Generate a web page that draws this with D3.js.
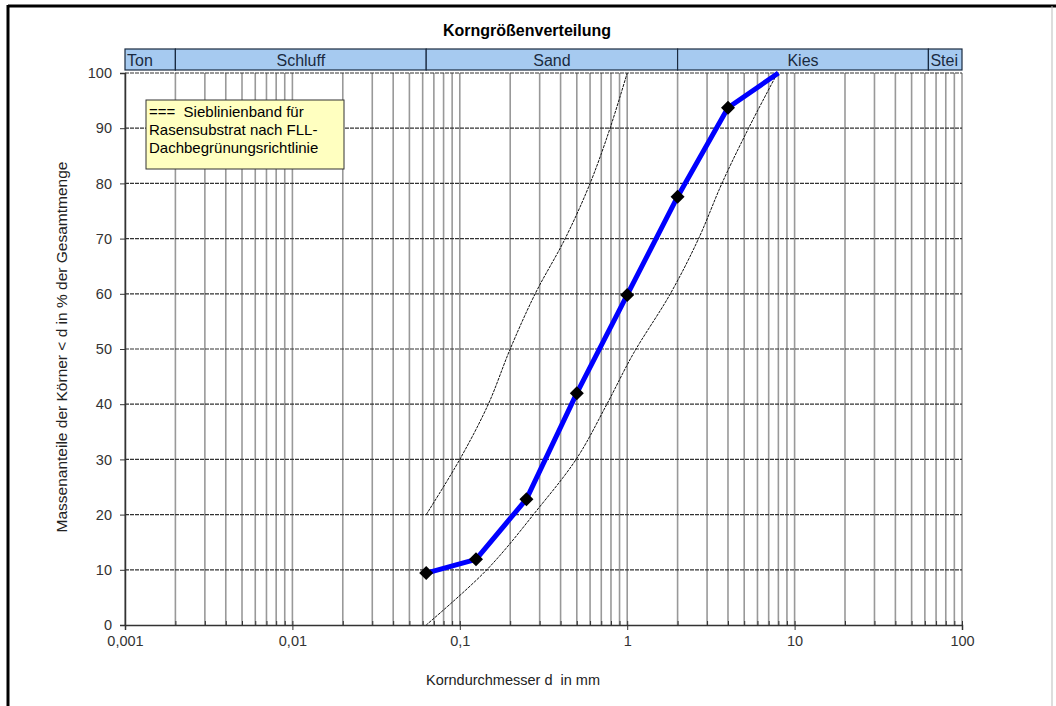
<!doctype html>
<html lang="de">
<head>
<meta charset="utf-8">
<script src="https://d3js.org/d3.v7.min.js"></script>
<title>Korngrößenverteilung</title>
<style>
  body { margin: 0; background: #fff; }
  svg text { font-family: "Liberation Sans", Arial, sans-serif; white-space: pre; }
</style>
</head>
<body>
<svg id="svg" width="1056" height="706"></svg>
<script>
// Sieblinie (gemessen)
const sieveD = [0.063, 0.125, 0.25, 0.5, 1, 2, 4, 8];
const sieveP = [9.4, 11.9, 22.8, 42, 59.8, 77.6, 93.7, 100];
const markerCount = 7; // letzter Punkt ohne Marker

// Sieblinienband FLL
const upperD = [0.063, 0.1, 0.148, 0.2, 0.282, 0.426, 0.6, 0.79, 1];
const upperP = [20, 30, 40, 50, 60, 70, 80, 90, 100];
const lowerD = [0.063, 0.145, 0.289, 0.5, 0.756, 1.09, 1.81, 2.67, 3.68, 5.31, 7.9];
const lowerP = [0, 10, 20.8, 30.2, 40, 49.2, 60, 70, 80, 90, 100];

// Bodenarten-Band
const fracBounds = [0.001, 0.002, 0.063, 2, 63, 100];
const fracNames = ["Ton", "Schluff", "Sand", "Kies", "Stei"];

const xTicks = [0.001, 0.01, 0.1, 1, 10, 100];
const xTickLabels = ["0,001", "0,01", "0,1", "1", "10", "100"];
const yTicks = [0, 10, 20, 30, 40, 50, 60, 70, 80, 90, 100];

const legendLines = ["===  Sieblinienband für", "Rasensubstrat nach FLL-", "Dachbegrünungsrichtlinie"];

const svg = d3.select("#svg");
let plot = { left: 125, right: 962, top: 73, bottom: 625 };

let xScale = d3.scaleLog().domain([0.001, 100]).range([plot.left, plot.right]);
let yScale = d3.scaleLinear().domain([0, 100]).range([plot.bottom, plot.top]);

// Rahmen
svg.append("line").attr("x1", 8).attr("y1", 6).attr("x2", 1056).attr("y2", 6)
  .attr("stroke", "#000").attr("stroke-width", 3);
svg.append("line").attr("x1", 8).attr("y1", 5).attr("x2", 8).attr("y2", 706)
  .attr("stroke", "#000").attr("stroke-width", 3);
svg.append("line").attr("x1", 1052).attr("y1", 6).attr("x2", 1052).attr("y2", 706)
  .attr("stroke", "#bbb").attr("stroke-width", 1);

// Titel
svg.append("text").attr("x", 527).attr("y", 36).attr("text-anchor", "middle")
  .attr("font-size", 16).attr("font-weight", "bold").attr("fill", "#000")
  .text("Korngrößenverteilung");

// Gitter vertikal (1..9 je Dekade)
let minorVals = [];
for (let e = -3; e < 2; e++) {
  for (let m = 1; m < 10; m++) minorVals.push(m * Math.pow(10, e));
}
minorVals.push(100);

let grid = svg.append("g");
grid.selectAll("line.v")
  .data(minorVals)
  .join("line")
  .attr("class", "v")
  .attr("x1", d => xScale(d)).attr("x2", d => xScale(d))
  .attr("y1", plot.top).attr("y2", plot.bottom)
  .attr("stroke", "#999").attr("stroke-width", 1.6);

// Gitter horizontal
grid.selectAll("line.h")
  .data(yTicks.filter(d => d > 0))
  .join("line")
  .attr("class", "h")
  .attr("x1", plot.left).attr("x2", plot.right)
  .attr("y1", d => yScale(d)).attr("y2", d => yScale(d))
  .attr("stroke", "#333").attr("stroke-width", 1.2).attr("stroke-dasharray", "4,1");

// Achsen
let xAxis = svg.append("g").attr("transform", `translate(0, ${plot.bottom})`);
xAxis.call(d3.axisBottom(xScale).tickValues(xTicks).tickSize(5)
  .tickFormat((d, i) => xTickLabels[i]));
let xMinor = svg.append("g").attr("transform", `translate(0, ${plot.bottom})`);
xMinor.call(d3.axisBottom(xScale).tickValues(minorVals).tickSize(-4).tickFormat(""));
xMinor.select(".domain").remove();

let yAxis = svg.append("g").attr("transform", `translate(${plot.left}, 0)`);
yAxis.call(d3.axisLeft(yScale).tickValues(yTicks).tickSize(5).tickPadding(8));

[xAxis, xMinor, yAxis].forEach(a => {
  a.select(".domain").attr("stroke", "#333").attr("stroke-width", 1.5);
  a.selectAll(".tick line").attr("stroke", "#333");
  a.selectAll(".tick text").attr("font-size", 14.5).attr("fill", "#333")
    .style("font-family", "'Liberation Sans', Arial, sans-serif");
});
xAxis.selectAll(".tick text").attr("dy", "0.9em");

// Achsentitel
svg.append("text").attr("x", 513).attr("y", 685).attr("text-anchor", "middle")
  .attr("font-size", 14.5).attr("fill", "#222").text("Korndurchmesser d  in mm");
svg.append("text").attr("transform", `translate(67, ${(plot.top + plot.bottom) / 2 - 2}) rotate(-90)`)
  .attr("text-anchor", "middle").attr("font-size", 15.5).attr("fill", "#222")
  .text("Massenanteile der Körner < d in % der Gesamtmenge");

// Bodenarten-Band oben
let band = svg.append("g");
let bandTop = 49, bandBottom = 70;
let fracs = fracNames.map((n, i) => ({ name: n, a: fracBounds[i], b: fracBounds[i + 1] }));
band.selectAll("rect")
  .data(fracs)
  .join("rect")
  .attr("x", d => xScale(d.a)).attr("y", bandTop)
  .attr("width", d => xScale(d.b) - xScale(d.a)).attr("height", bandBottom - bandTop)
  .attr("fill", "#a6caf0").attr("stroke", "#1a2a40").attr("stroke-width", 1.2);
band.selectAll("text")
  .data(fracs)
  .join("text")
  .attr("x", (d, i) => (i === 0 || i === fracs.length - 1) ? xScale(d.a) + 2 : (xScale(d.a) + xScale(d.b)) / 2)
  .attr("text-anchor", (d, i) => (i === 0 || i === fracs.length - 1) ? "start" : "middle")
  .attr("y", 66).attr("font-size", 16).attr("fill", "#1a2a40")
  .text(d => d.name);

// Legende
let legend = svg.append("g");
legend.append("rect").attr("x", 146).attr("y", 100).attr("width", 198).attr("height", 69)
  .attr("fill", "#ffffc0").attr("stroke", "#333").attr("stroke-width", 1);
legend.selectAll("text")
  .data(legendLines)
  .join("text")
  .attr("x", 149).attr("y", (d, i) => 117 + i * 18)
  .attr("font-size", 15).attr("fill", "#000")
  .text(d => d);

// Sieblinienband
let container = svg.append("g");
let bandLine = d3.line().x(d => xScale(d[0])).y(d => yScale(d[1])).curve(d3.curveCatmullRom.alpha(0.5));
[[upperD, upperP], [lowerD, lowerP]].forEach(([ds, ps]) => {
  container.append("path")
    .datum(ds.map((d, i) => [d, ps[i]]))
    .attr("d", bandLine)
    .attr("fill", "none").attr("stroke", "#111").attr("stroke-width", 1)
    .attr("stroke-dasharray", "3,1");
});

// Sieblinie
let sieveData = sieveD.map((d, i) => ({ d: d, p: sieveP[i] }));
container.append("path")
  .datum(sieveData)
  .attr("d", d3.line().x(d => xScale(d.d)).y(d => yScale(d.p)))
  .attr("fill", "none").attr("stroke", "#0000ff").attr("stroke-width", 5)
  .attr("stroke-linejoin", "round");
container.selectAll("path.marker")
  .data(sieveData.slice(0, markerCount))
  .join("path")
  .attr("class", "marker")
  .attr("transform", d => `translate(${xScale(d.d)}, ${yScale(d.p)})`)
  .attr("d", d3.symbol(d3.symbolDiamond2, 125))
  .attr("fill", "#000");
</script>
</body>
</html>
